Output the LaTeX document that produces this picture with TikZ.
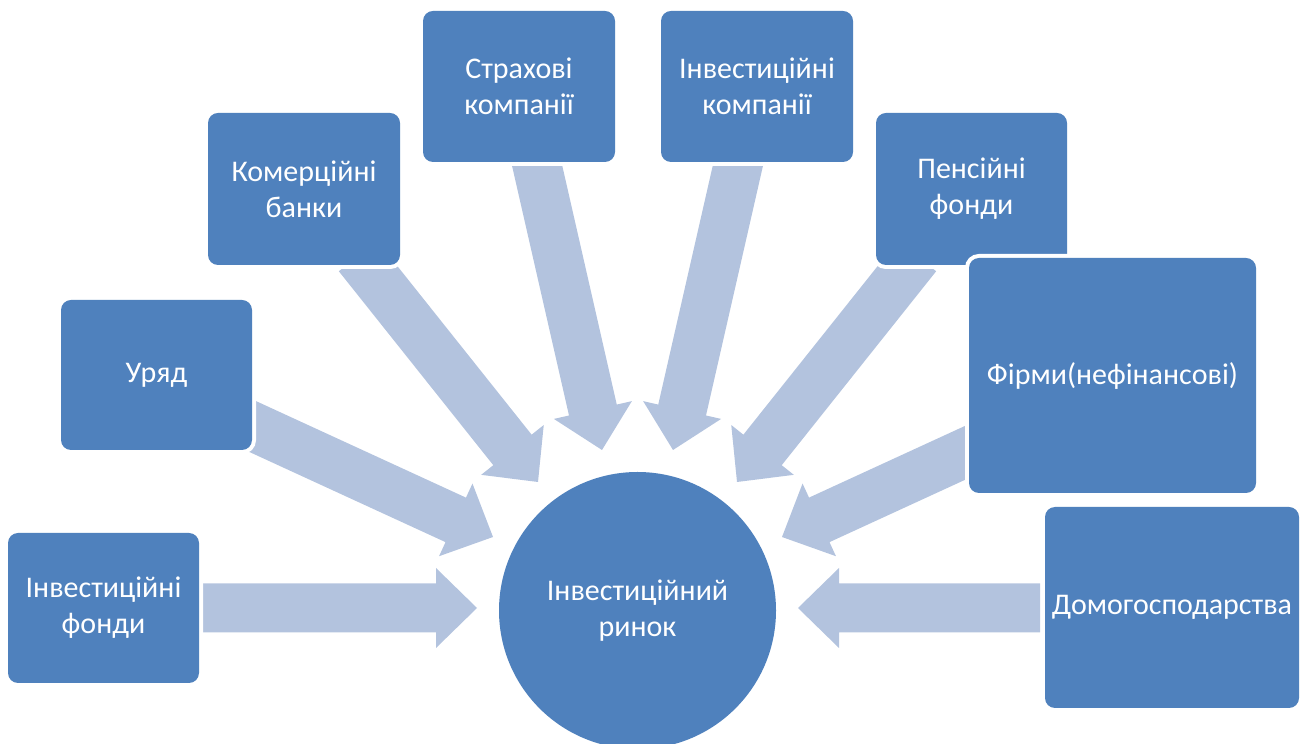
\documentclass[tikz,border=0pt]{standalone}
\usepackage{fontspec}
\setmainfont{Carlito}
\usetikzlibrary{calc}
\definecolor{boxblue}{RGB}{79,129,189}
\definecolor{arrowblue}{RGB}{179,195,222}
\tikzset{
  box/.style={rectangle, rounded corners=10pt, fill=boxblue,
    preaction={draw=white, line width=8pt},
    text=white, align=center, inner sep=0pt,
    font=\fontsize{30}{36}\selectfont},
  hub/.style={circle, fill=boxblue, preaction={draw=white, line width=6pt},
    text=white, align=center, inner sep=0pt, minimum size=277pt,
    font=\fontsize{30}{36}\selectfont},
  arrowfill/.style={fill=arrowblue}
}
\newcommand{\blockarrow}[2]{%
  \path ($(#2)!41pt!(#1)$) coordinate (hb);
  \fill[arrowfill] ($(#1)!24.5pt!90:(#2)$) -- ($(hb)!24.5pt!90:(#2)$) -- ($(hb)!40pt!90:(#2)$) -- (#2) -- ($(hb)!40pt!-90:(#2)$) -- ($(hb)!24.5pt!-90:(#2)$) -- ($(#1)!24.5pt!-90:(#2)$) -- cycle;}
\begin{document}
\begin{tikzpicture}[x=1pt,y=1pt]
\useasboundingbox (0,0) rectangle (1301,744);
% arrow end points
\coordinate (t1) at (203,136);  \coordinate (p1) at (477,136);
\coordinate (t2) at (245,321);  \coordinate (p2) at (493,207);
\coordinate (t3) at (358,488);  \coordinate (p3) at (538,262);
\coordinate (t4) at (534,592);  \coordinate (p4) at (602,294);
\coordinate (t5) at (741,592);  \coordinate (p5) at (673,294);
\coordinate (t6) at (917,488);  \coordinate (p6) at (737,262);
\coordinate (t7) at (1030,321); \coordinate (p7) at (782,207);
\coordinate (t8) at (1040,136); \coordinate (p8) at (798,136);
\blockarrow{t1}{p1}
\blockarrow{t2}{p2}
\blockarrow{t3}{p3}
\blockarrow{t4}{p4}
\blockarrow{t5}{p5}
\blockarrow{t6}{p6}
\blockarrow{t7}{p7}
\blockarrow{t8}{p8}
% boxes
\node[box, minimum width=191pt, minimum height=150pt] (fonds) at (103.5,136) {Інвестиційні\\фонди};
\node[box, minimum width=191pt, minimum height=150pt] (uryad) at (156.5,369) {Уряд};
\node[box, minimum width=192pt, minimum height=152pt] (banky) at (304,555) {Комерційні\\банки};
\node[box, minimum width=192pt, minimum height=151pt] (strakh) at (519,657.5) {Страхові\\компанії};
\node[box, minimum width=192pt, minimum height=151pt] (invcomp) at (757,657.5) {Інвестиційні\\компанії};
\node[box, minimum width=191pt, minimum height=152pt] (pension) at (971.5,555) {Пенсійні\\фонди};
\node[box, minimum width=287pt, minimum height=235pt] (firmy) at (1112.5,368.5) {Фірми(нефінансові)};
\node[box, minimum width=254pt, minimum height=201pt] (domo) at (1172,136.5) {Домогосподарства};
\node[hub] (market) at (637.5,133.5) {Інвестиційний\\ринок};
\end{tikzpicture}
\end{document}
